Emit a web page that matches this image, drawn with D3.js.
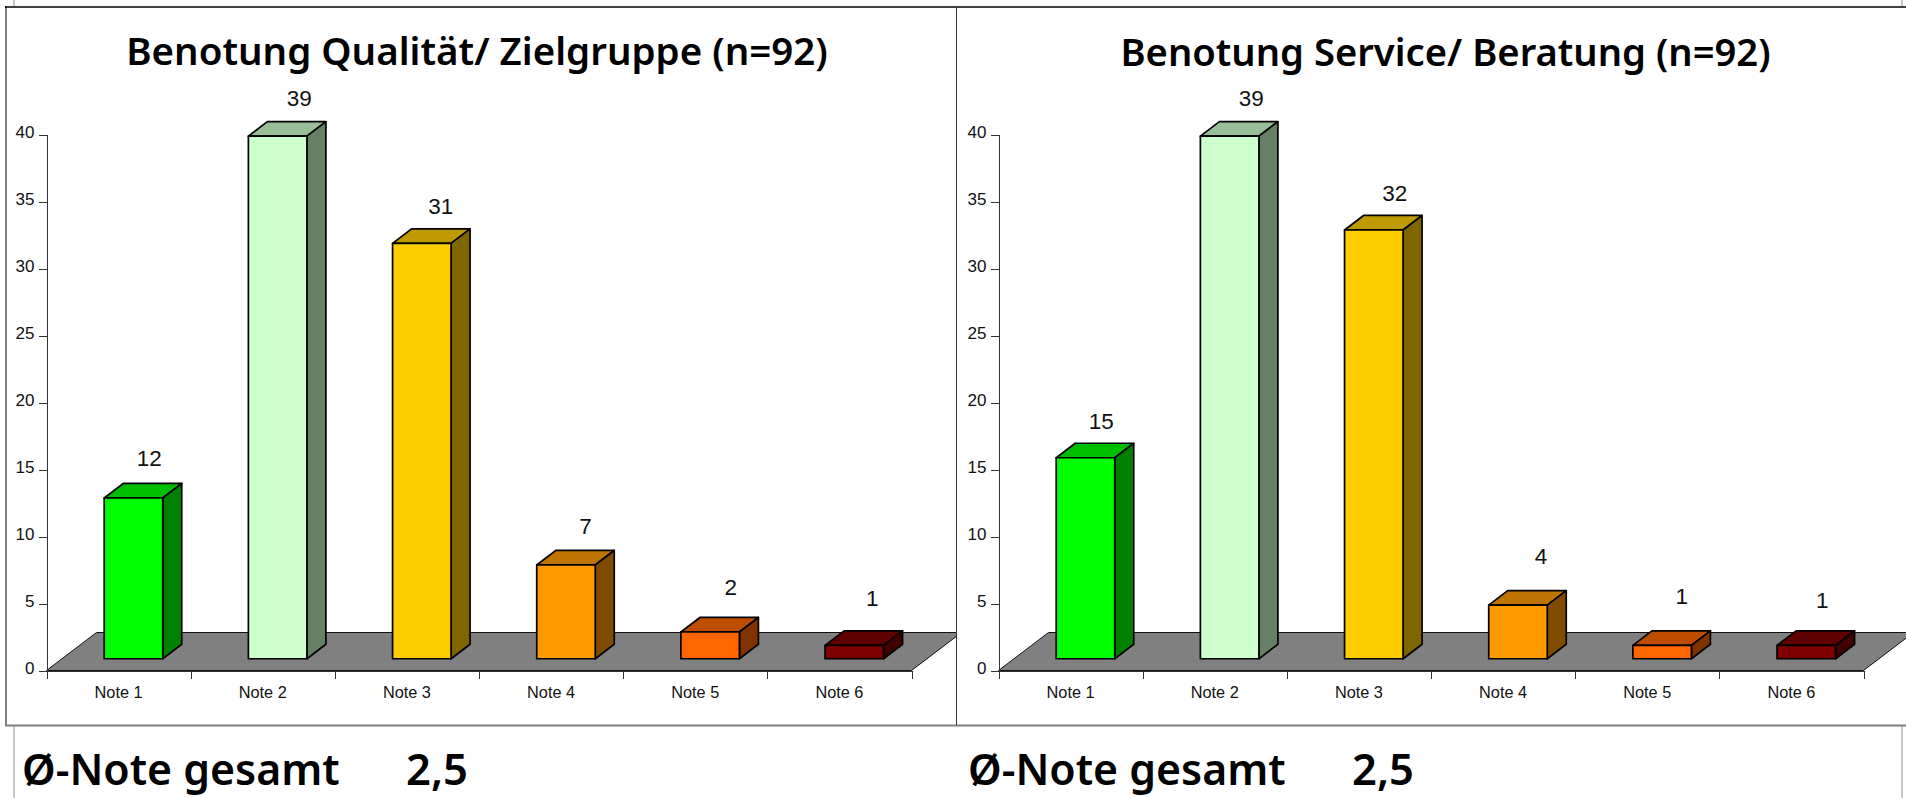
<!DOCTYPE html>
<html>
<head>
<meta charset="utf-8">
<style>
	html, body { margin: 0; padding: 0; background: #fff; overflow: hidden; }
	svg { display: block; }
	.axis text { font-family: "Liberation Sans", Arial, sans-serif; font-size: 16.3px; fill: #111; }
	.axis.yaxis text { font-size: 17px; }
	.axis line, .axis path { stroke: #333; stroke-width: 1; shape-rendering: crispEdges; }
	.big { font-family: "Noto Sans", sans-serif; font-weight: 600; fill: #000; }
	.value { font-family: "Liberation Sans", Arial, sans-serif; font-size: 22.5px; fill: #111; text-anchor: middle; }
</style>
</head>
<body>
<script src="https://cdn.jsdelivr.net/npm/d3@7"></script>
<script>
var categories = ["Note 1", "Note 2", "Note 3", "Note 4", "Note 5", "Note 6"];
var qualitaetValues = [12, 39, 31, 7, 2, 1];
var serviceValues = [15, 39, 32, 4, 1, 1];
var yTicks = [0, 5, 10, 15, 20, 25, 30, 35, 40];
var barColors = ["#00ff00", "#ccffcc", "#ffcc00", "#ff9900", "#ff6600", "#800000"];
var titles = ["Benotung Qualität/ Zielgruppe (n=92)", "Benotung Service/ Beratung (n=92)"];
var averageLabel = "Ø-Note gesamt";
var averages = ["2,5", "2,5"];

// the value labels sit by hand in the original, so they get their own nudges
var labelShiftQualitaet = [15.7, 21.6, 19, 19.6, 20.5, 18];
var labelLiftQualitaet = [17, 15.6, 14.4, 16, 22, 25];
var labelShiftService = [15.7, 21.5, 21, 23, 19.6, 16];
var labelLiftService = [14.6, 15.3, 14.3, 27, 27, 23];

var width = 1906, height = 798;
var svg = d3.select("body").append("svg")
	.attr("width", width)
	.attr("height", height);

// page furniture: the frame lines around the two panels
function frameLine(x1, y1, x2, y2, color, w) {
	svg.append("line")
		.attr("x1", x1).attr("y1", y1).attr("x2", x2).attr("y2", y2)
		.style("stroke", color).style("stroke-width", w);
}
frameLine(14, 0, 14, 6, "#c8c8c8", 2);
frameLine(14, 726, 14, 798, "#c8c8c8", 2);
frameLine(1902, 0, 1902, 6, "#c8c8c8", 2);
frameLine(1902, 726, 1902, 798, "#c8c8c8", 2);
frameLine(6, 6, 6, 726, "#808080", 2);
frameLine(5, 7, 1906, 7, "#000", 1.5);
frameLine(5, 725.5, 1906, 725.5, "#808080", 2);
frameLine(956.5, 7, 956.5, 725, "#333", 1);

var defs = svg.append("defs");
defs.append("clipPath").attr("id", "clip0").append("rect")
	.attr("x", -50).attr("y", 0).attr("width", 956 - 46.5 + 50).attr("height", height);
defs.append("clipPath").attr("id", "clip1").append("rect")
	.attr("x", -50).attr("y", 0).attr("width", 1906 - 998.5 + 50).attr("height", height);

// one panel: floor, axes, boxes, labels, title
function drawChart(idx, originX, values, labelShift, labelLift, titleCenter, titleBase, titleSize) {
	var plotW = 865, floorDx = 50, floorDy = 38, depthX = 19, depthY = 14.5;
	var baseY = 670.5;

	var y = d3.scaleLinear().domain([0, 40]).range([baseY, 134.5]);
	var x = d3.scaleBand().domain(categories).range([0, plotW]).paddingInner(0.594).paddingOuter(0.297);
	var tickScale = d3.scaleLinear().domain([0, categories.length]).range([0, plotW]);
	var unit = (y(0) - y(1));

	// boxes stand in the middle of the floor
	var shiftX = (floorDx - depthX) / 2 - 0.6;
	var shiftY = (floorDy - depthY) / 2;

	var g = svg.append("g").attr("transform", "translate(" + originX + ",0)");

	g.append("path")
		.attr("clip-path", "url(#clip" + idx + ")")
		.attr("d", "M0," + baseY + "L" + plotW + "," + baseY + "L" + (plotW + floorDx) + "," + (baseY - floorDy) + "L" + floorDx + "," + (baseY - floorDy) + "Z")
		.style("fill", "#808080")
		.style("stroke", "#111")
		.style("stroke-width", 1);

	var yAxis = g.append("g").attr("class", "axis yaxis")
		.call(d3.axisLeft(y).tickValues(yTicks).tickSize(8).tickPadding(4));
	// tick labels ride a little above their ticks
	yAxis.selectAll("text").attr("y", -2.5);

	g.append("g").attr("class", "axis")
		.attr("transform", "translate(0," + baseY + ")")
		.call(d3.axisBottom(tickScale).ticks(categories.length).tickSize(8).tickSizeOuter(8).tickFormat(""));

	var bandAxis = g.append("g").attr("class", "axis")
		.attr("transform", "translate(0," + baseY + ")")
		.call(d3.axisBottom(x).tickSize(0).tickPadding(16));
	bandAxis.select(".domain").remove();

	var bars = g.selectAll("g.box")
		.data(values)
		.enter()
		.append("g")
			.attr("class", "box")
			.style("stroke", "#000")
			.style("stroke-width", 1.7)
			.style("stroke-linejoin", "round");

	function left(d, i) { return x(categories[i]) + shiftX; }
	function top(d) { return y(d) - shiftY; }
	function shade(i, k) {
		var c = d3.rgb(barColors[i]);
		return d3.rgb(c.r * k, c.g * k, c.b * k).formatHex();
	}

	// top face
	bars.append("path")
		.attr("d", function (d, i) {
			var l = left(d, i), t = top(d), w = x.bandwidth();
			return "M" + l + "," + t + "l" + depthX + "," + (-depthY) + "h" + w + "l" + (-depthX) + "," + depthY + "Z";
		})
		.style("fill", function (d, i) { return shade(i, 0.75); });

	// side face
	bars.append("path")
		.attr("d", function (d, i) {
			var r = left(d, i) + x.bandwidth(), t = top(d), h = d * unit;
			return "M" + r + "," + t + "l" + depthX + "," + (-depthY) + "v" + h + "l" + (-depthX) + "," + depthY + "Z";
		})
		.style("fill", function (d, i) { return shade(i, 0.5); });

	// front face
	bars.append("rect")
		.attr("x", left)
		.attr("y", top)
		.attr("width", x.bandwidth())
		.attr("height", function (d) { return d * unit; })
		.style("fill", function (d, i) { return barColors[i]; });

	g.selectAll("text.value")
		.data(values)
		.enter()
		.append("text")
			.attr("class", "value")
			.attr("x", function (d, i) { return left(d, i) + x.bandwidth() / 2 + labelShift[i]; })
			.attr("y", function (d, i) { return top(d) - depthY - labelLift[i]; })
			.text(function (d) { return d; });

	svg.append("text")
		.attr("class", "big")
		.attr("x", titleCenter)
		.attr("y", titleBase)
		.attr("text-anchor", "middle")
		.style("font-size", titleSize + "px")
		.text(titles[idx]);
}

drawChart(0, 46.5, qualitaetValues, labelShiftQualitaet, labelLiftQualitaet, 477, 65, 38.5);
drawChart(1, 998.5, serviceValues, labelShiftService, labelLiftService, 1445.5, 66, 38.2);

// the averages under each panel
function drawAverage(labelX, valueX, value) {
	svg.append("text").attr("class", "big").attr("x", labelX).attr("y", 785.3)
		.style("font-size", "42.8px").text(averageLabel);
	svg.append("text").attr("class", "big").attr("x", valueX).attr("y", 785.3)
		.style("font-size", "43.5px").text(value);
}
drawAverage(22, 406, averages[0]);
drawAverage(968, 1352, averages[1]);
</script>
</body>
</html>
